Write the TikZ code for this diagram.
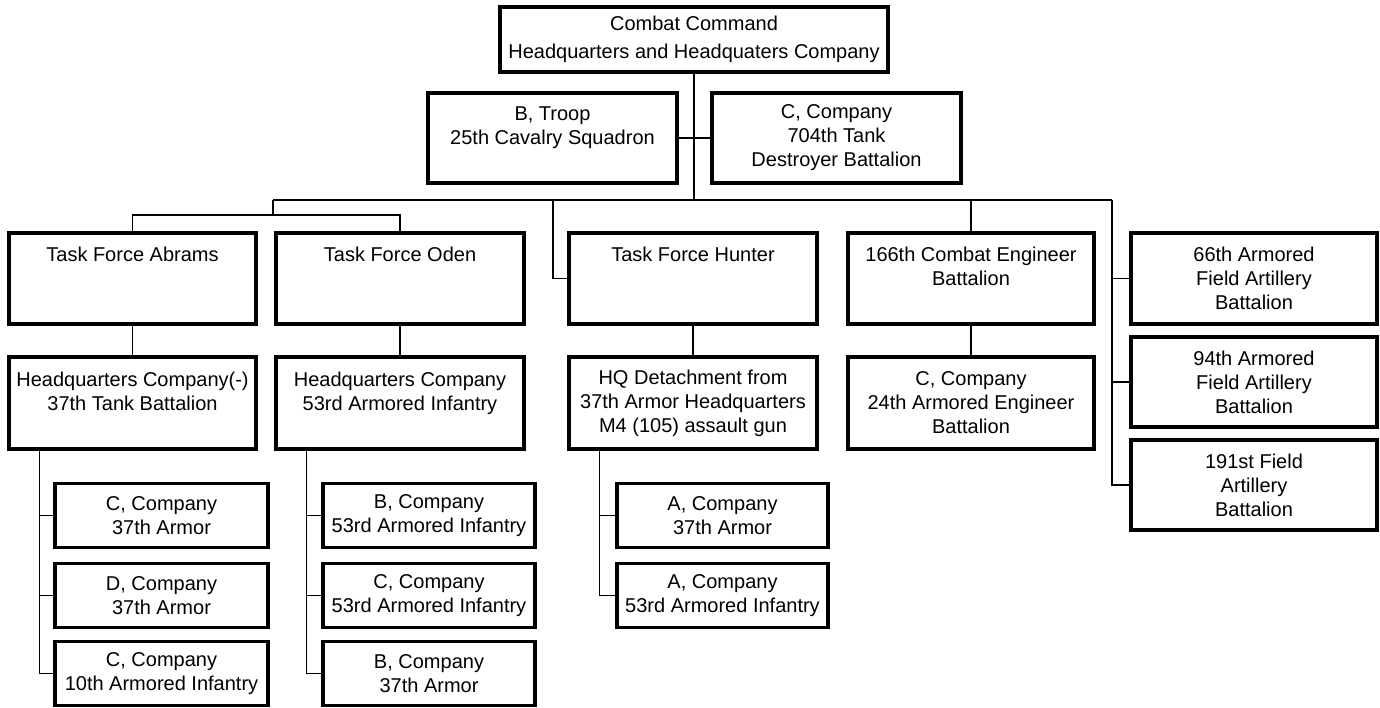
\documentclass[tikz,border=0pt]{standalone}
\usepackage{fontspec}
\setmainfont{Liberation Sans}
\begin{document}
\begin{tikzpicture}[x=1pt,y=-1pt,
    unit/.style={draw, line width=3.5pt, align=center, inner sep=0pt,
      font=\fontsize{20}{24}\selectfont},
    link/.style={line width=1.2pt}]
  \useasboundingbox (0,0) rectangle (1380,707);
  % command and attached units
  \node[unit, minimum width=388pt, minimum height=65pt, font=\fontsize{20}{28}\selectfont] (cc) at (694,39.5) {Combat Command\\Headquarters and Headquaters Company};
  \node[unit, minimum width=249pt, minimum height=90pt] (bt) at (552.5,138) {B, Troop\\25th Cavalry Squadron\\ \mbox{}};
  \node[unit, minimum width=249pt, minimum height=90pt] (cd) at (836.5,138) {C, Company\\704th Tank\\Destroyer Battalion};
  % task forces
  \node[unit, minimum width=247pt, minimum height=91pt] (tfa) at (132.5,278.5) {Task Force Abrams\\ \mbox{}\\ \mbox{}};
  \node[unit, minimum width=248pt, minimum height=91pt] (tfo) at (400,278.5) {Task Force Oden\\ \mbox{}\\ \mbox{}};
  \node[unit, minimum width=248pt, minimum height=91pt] (tfh) at (693,278.5) {Task Force Hunter\\ \mbox{}\\ \mbox{}};
  \node[unit, minimum width=246pt, minimum height=91pt] (ceb) at (971,278.5) {166th Combat Engineer\\Battalion\\ \mbox{}};
  \node[unit, minimum width=246pt, minimum height=91pt] (fa66) at (1254,278.5) {66th Armored\\Field Artillery\\Battalion};
  \node[unit, minimum width=246pt, minimum height=90pt] (fa94) at (1254,382) {94th Armored\\Field Artillery\\Battalion};
  \node[unit, minimum width=246pt, minimum height=90pt] (fa191) at (1254,485) {191st Field\\Artillery\\Battalion};
  % headquarters
  \node[unit, minimum width=247pt, minimum height=92pt] (hqa) at (132.5,403) {Headquarters Company(-)\\37th Tank Battalion\\ \mbox{}};
  \node[unit, minimum width=248pt, minimum height=92pt] (hqo) at (400,403) {Headquarters Company\\53rd Armored Infantry\\ \mbox{}};
  \node[unit, minimum width=248pt, minimum height=92pt] (hqh) at (693,403) {HQ Detachment from\\37th Armor Headquarters\\M4 (105) assault gun};
  \node[unit, minimum width=246pt, minimum height=92pt] (eng) at (971,403) {C, Company\\24th Armored Engineer\\Battalion};
  % companies
  \node[unit, minimum width=213pt, minimum height=64pt] (caa) at (161.5,515.5) {C, Company\\37th Armor};
  \node[unit, minimum width=213pt, minimum height=64pt] (cda) at (161.5,595.5) {D, Company\\37th Armor};
  \node[unit, minimum width=213pt, minimum height=64pt] (cia) at (161.5,673.5) {C, Company\\10th Armored Infantry};
  \node[unit, minimum width=212pt, minimum height=64pt] (bio) at (429,515.5) {B, Company\\53rd Armored Infantry};
  \node[unit, minimum width=212pt, minimum height=64pt] (cio) at (429,595.5) {C, Company\\53rd Armored Infantry};
  \node[unit, minimum width=212pt, minimum height=64pt] (bao) at (429,673.5) {B, Company\\37th Armor};
  \node[unit, minimum width=211pt, minimum height=64pt] (aah) at (722.5,515.5) {A, Company\\37th Armor};
  \node[unit, minimum width=211pt, minimum height=64pt] (aih) at (722.5,595.5) {A, Company\\53rd Armored Infantry};
  % connectors
  \coordinate (busL) at (273,200);
  \coordinate (busR) at (1112,200);
  \coordinate (tfbus) at (273,215);
  \coordinate (hj) at (553,200);
  \draw[link] (cc.south) -- (cc.south |- busL);
  \draw[link] (bt.east) -- (cd.west);
  \draw[link] (busL) -- (busR);
  \draw[link] (busL) -- (tfbus);
  \draw[link] (tfa.north) |- (tfbus) -| (tfo.north);
  \draw[link] (hj) |- (tfh.west);
  \draw[link] (ceb.north) -- (ceb.north |- busR);
  \foreach \n in {fa66,fa94,fa191}
    \draw[link] (busR) |- (\n.west);
  \foreach \a/\b in {tfa/hqa,tfo/hqo,tfh/hqh,ceb/eng}
    \draw[link] (\a.south) -- (\b.north);
  \foreach \n in {caa,cda,cia}
    \draw[link] ([xshift=32pt]hqa.south west) |- (\n.west);
  \foreach \n in {bio,cio,bao}
    \draw[link] ([xshift=32pt]hqo.south west) |- (\n.west);
  \foreach \n in {aah,aih}
    \draw[link] ([xshift=32pt]hqh.south west) |- (\n.west);
\end{tikzpicture}
\end{document}
